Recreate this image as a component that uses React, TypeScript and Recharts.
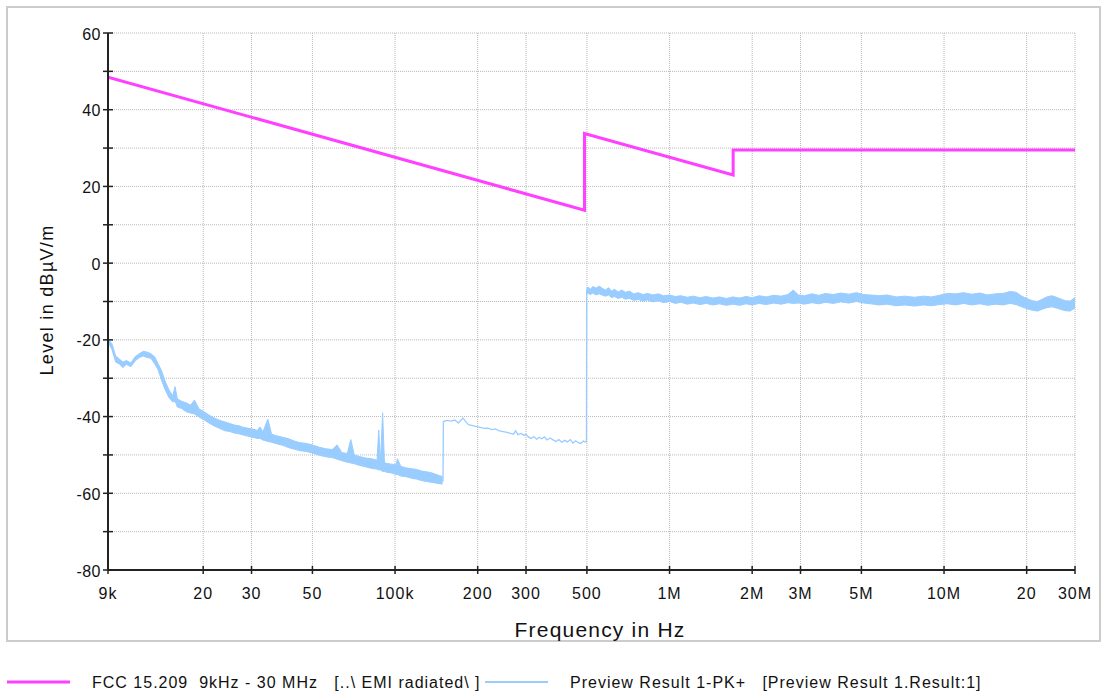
import React from 'react';
import { ComposedChart, Line, Area, XAxis, YAxis, CartesianGrid } from 'recharts';

// FCC 15.209 limit line (frequency in kHz, level in dBµV/m)
const limitFreqKHz = [9, 490, 490, 1705, 1705, 30000];
const limitLevel = [48.5, 13.8, 33.8, 23.0, 29.5, 29.5];

// Measured trace, segment 1 (9 kHz – 150 kHz): noisy band low / high
const seg1FreqKHz = [9.0, 9.3, 9.6, 9.9, 10.2, 10.5, 10.9, 11.3, 11.7, 12.1, 12.5, 12.9, 13.3, 13.7, 14.1, 14.5, 15.0, 15.5, 15.8, 16.1, 16.7, 17.3, 18.0, 18.6, 19.3, 20.0, 21.0, 22.0, 23.0, 24.0, 25.0, 26.0, 27.0, 28.0, 29.0, 30.0, 31.5, 32.2, 33.0, 34.4, 35.5, 37.0, 39.0, 41.0, 43.0, 45.0, 47.5, 50.0, 53.0, 56.0, 59.0, 61.5, 64.0, 67.0, 69.0, 71.0, 74.0, 78.0, 82.0, 86.0, 87.2, 88.5, 90.1, 91.5, 93.0, 97.0, 101.0, 102.0, 105, 110, 115, 120, 125, 130, 135, 140, 145, 149];
const seg1Low = [-20.6, -22.5, -25.8, -26.3, -27.2, -26.4, -27.0, -25.5, -24.6, -24.2, -24.6, -24.8, -26.2, -27.8, -30.5, -32.8, -35.0, -36.2, -36.0, -37.5, -37.9, -38.7, -39.1, -39.3, -40.1, -40.7, -41.7, -42.5, -43.1, -43.7, -43.9, -44.3, -44.5, -44.8, -45.1, -45.3, -45.7, -45.7, -46.1, -46.5, -46.7, -47.1, -47.5, -48.1, -48.5, -48.9, -49.1, -49.5, -50.1, -50.5, -50.7, -51.1, -51.5, -51.9, -52.1, -52.3, -52.7, -53.1, -53.5, -53.7, -53.9, -53.9, -54.3, -54.3, -54.5, -54.7, -55.1, -55.1, -55.5, -55.7, -56.1, -56.3, -56.7, -56.9, -57.1, -57.3, -57.5, -57.6];
const seg1High = [-19.7, -21.0, -24.2, -25.0, -25.8, -25.4, -26.0, -24.4, -23.6, -23.0, -23.2, -23.6, -24.4, -26.2, -28.0, -30.6, -33.0, -34.6, -32.2, -35.4, -36.0, -36.4, -37.0, -35.7, -38.0, -38.6, -39.6, -40.4, -41.0, -41.4, -41.8, -42.2, -42.4, -42.8, -43.0, -43.2, -43.6, -42.7, -44.0, -40.7, -44.6, -45.0, -45.4, -45.8, -46.4, -46.8, -47.0, -47.4, -48.0, -48.4, -48.6, -47.4, -49.4, -49.6, -46.0, -50.0, -50.4, -50.8, -51.0, -51.4, -43.5, -51.8, -39.0, -52.0, -52.2, -52.4, -52.6, -51.0, -53.0, -53.4, -53.6, -53.8, -54.2, -54.4, -54.6, -55.0, -55.4, -55.6];

// Measured trace, segment 2 (150 kHz – 500 kHz): thin line, incl. both jumps
const seg2FreqKHz = [149.5, 150, 155, 160, 165, 170, 174, 177, 181, 185, 190, 195, 200, 206, 212, 218, 225, 232, 240, 248, 256, 264, 270, 275, 280, 288, 295, 300, 306, 313, 320, 328, 335, 342, 350, 358, 367, 375, 385, 395, 405, 415, 425, 435, 445, 455, 465, 475, 485, 492, 498, 499];
const seg2Level = [-57.0, -41.3, -41.0, -41.2, -40.9, -41.7, -40.9, -40.4, -41.3, -42.1, -42.3, -42.5, -42.7, -42.9, -43.1, -43.0, -43.4, -43.2, -43.7, -43.9, -44.1, -44.4, -44.6, -43.7, -44.7, -44.4, -44.9, -44.6, -45.3, -45.7, -45.2, -45.9, -45.4, -45.8, -45.3, -46.1, -45.6, -46.0, -46.5, -46.0, -46.7, -46.2, -46.6, -46.0, -46.9, -46.3, -46.8, -47.0, -46.4, -46.6, -46.6, -7.0];

// Measured trace, segment 3 (500 kHz – 30 MHz): noisy band low / high
const seg3FreqKHz = [499, 505, 515, 525, 540, 555, 570, 585, 600, 615, 630, 650, 670, 690, 715, 740, 770, 800, 830, 870, 910, 950, 1000, 1050, 1100, 1160, 1220, 1290, 1360, 1440, 1520, 1610, 1700, 1800, 1900, 2000, 2120, 2250, 2400, 2550, 2700, 2820, 2950, 3100, 3300, 3500, 3700, 3950, 4200, 4500, 4800, 5100, 5400, 5800, 6200, 6700, 7200, 7800, 8400, 9000, 9600, 10300, 11000, 11800, 12600, 13500, 14400, 15400, 16400, 17400, 18300, 19200, 20100, 21000, 21900, 22800, 23700, 24700, 25700, 26700, 27700, 28800, 30000];
const seg3Low = [-7.8, -7.9, -8.2, -7.8, -8.3, -8.0, -8.4, -8.6, -8.3, -9.0, -8.7, -9.2, -8.9, -9.4, -9.2, -9.7, -9.5, -9.9, -9.6, -10.1, -9.8, -10.3, -10.0, -10.5, -10.2, -10.7, -10.4, -10.8, -10.5, -10.9, -10.6, -11.0, -10.7, -11.0, -10.6, -10.9, -10.5, -10.8, -10.4, -10.7, -10.3, -10.5, -10.4, -10.7, -10.3, -10.6, -10.2, -10.5, -10.1, -10.4, -10.0, -10.4, -10.6, -10.9, -10.7, -11.1, -10.9, -11.2, -10.9, -11.1, -10.8, -10.6, -10.9, -10.5, -10.9, -10.6, -11.0, -10.7, -10.9, -10.5, -10.8, -11.4, -11.9, -12.3, -12.5, -12.0, -11.6, -11.4, -11.7, -12.1, -12.4, -12.5, -11.7];
const seg3High = [-6.6, -6.2, -6.8, -6.1, -6.5, -6.0, -6.6, -7.0, -6.4, -7.3, -6.8, -7.5, -7.0, -7.6, -7.3, -8.0, -7.7, -8.2, -7.9, -8.3, -8.0, -8.5, -8.3, -8.7, -8.5, -8.9, -8.6, -9.0, -8.7, -9.1, -8.8, -9.2, -8.8, -9.1, -8.7, -9.0, -8.5, -8.8, -8.4, -8.6, -8.2, -7.0, -8.3, -8.5, -8.0, -8.4, -7.9, -8.2, -7.8, -8.1, -7.7, -8.2, -8.3, -8.5, -8.3, -8.8, -8.6, -8.9, -8.6, -8.8, -8.4, -7.9, -8.0, -7.7, -8.1, -7.8, -8.3, -8.0, -7.9, -7.4, -7.6, -8.6, -9.3, -9.8, -10.0, -9.4, -8.8, -8.5, -8.9, -9.4, -9.8, -9.9, -9.0];

// Axes
const xTicks = [9000, 20000, 30000, 50000, 100000, 200000, 300000, 500000, 1000000, 2000000, 3000000, 5000000, 10000000, 20000000, 30000000];
const xTickLabels = ['9k', '20', '30', '50', '100k', '200', '300', '500', '1M', '2M', '3M', '5M', '10M', '20', '30M'];
const yTicks = [-80, -70, -60, -50, -40, -30, -20, -10, 0, 10, 20, 30, 40, 50, 60];

const legendLimit = 'FCC 15.209  9kHz - 30 MHz   [..\\ EMI radiated\\ ]';
const legendMeas = 'Preview Result 1-PK+   [Preview Result 1.Result:1]';

const limitData = limitFreqKHz.map((f, i) => ({ f: f * 1000, v: limitLevel[i] }));
const seg1Data = seg1FreqKHz.map((f, i) => ({ f: f * 1000, r: [seg1Low[i], seg1High[i]] }));
const seg2Data = seg2FreqKHz.map((f, i) => ({ f: f * 1000, v: seg2Level[i] }));
const seg3Data = seg3FreqKHz.map((f, i) => ({ f: f * 1000, r: [seg3Low[i], seg3High[i]] }));

const FONT = '"Liberation Sans", Arial, sans-serif';
const PINK = '#ff40ff';
const BLUE = '#99ccff';

const YTick = (props: any) => {
  const { x, y, payload } = props;
  const v = payload.value;
  return (
    <g>
      <line x1={x - 5} x2={x + 5} y1={y} y2={y} stroke="#222" strokeWidth={1.5} />
      {v % 20 === 0 && (
        <text x={x - 7} y={y} dy={6.5} textAnchor="end" fontSize={16} fontFamily={FONT} fill="#111" letterSpacing={0.5}>
          {v}
        </text>
      )}
    </g>
  );
};

const XTick = (props: any) => {
  const { x, y, payload } = props;
  const idx = xTicks.indexOf(payload.value);
  return (
    <g>
      <line x1={x} x2={x} y1={y - 4} y2={y + 4} stroke="#222" strokeWidth={1.5} />
      <text x={x} y={y + 29} textAnchor="middle" fontSize={16} fontFamily={FONT} fill="#111" letterSpacing={1}>
        {idx >= 0 ? xTickLabels[idx] : ''}
      </text>
    </g>
  );
};

export default function App() {
  return (
    <div style={{ position: 'absolute', left: 0, top: 0, width: 1107, height: 695, background: '#fff', fontFamily: FONT }}>
      <div
        style={{
          position: 'absolute',
          left: 6,
          top: 6,
          width: 1095,
          height: 636,
          boxSizing: 'border-box',
          border: '2px solid #cccccc',
        }}
      />
      <svg width={1107} height={695} style={{ position: 'absolute', left: 0, top: 0 }}>
        <text
          x={0}
          y={0}
          transform="translate(53,300) rotate(-90)"
          textAnchor="middle"
          fontSize={18}
          fontFamily={FONT}
          fill="#111"
          letterSpacing={1.3}
        >
          Level in dBµV/m
        </text>
        <text x={600} y={637} textAnchor="middle" fontSize={21} fontFamily={FONT} fill="#111" letterSpacing={1.2}>
          Frequency in Hz
        </text>
        <line x1={7} x2={70} y1={682} y2={682} stroke={PINK} strokeWidth={3} />
        <text x={92} y={688} fontSize={16} fontFamily={FONT} fill="#111" letterSpacing={1} style={{ whiteSpace: 'pre' }}>
          {legendLimit}
        </text>
        <line x1={485} x2={548} y1={682} y2={682} stroke={BLUE} strokeWidth={2} />
        <text x={570} y={688} fontSize={16} fontFamily={FONT} fill="#111" letterSpacing={1} style={{ whiteSpace: 'pre' }}>
          {legendMeas}
        </text>
      </svg>
      <div style={{ position: 'absolute', left: 0, top: 0 }}>
        <ComposedChart width={1107} height={620} margin={{ top: 33, right: 32, left: 48, bottom: 20 }}>
          <CartesianGrid stroke="#b8b8b8" strokeDasharray="1 1" />
          <XAxis
            dataKey="f"
            type="number"
            scale="log"
            domain={[9000, 30000000]}
            allowDataOverflow
            ticks={xTicks}
            interval={0}
            tick={<XTick />}
            tickLine={false}
            tickSize={0}
            tickMargin={0}
            height={30}
            axisLine={{ stroke: '#222', strokeWidth: 2 }}
          />
          <YAxis
            type="number"
            domain={[-80, 60]}
            allowDataOverflow
            ticks={yTicks}
            interval={0}
            tick={<YTick />}
            tickLine={false}
            tickSize={0}
            tickMargin={0}
            width={60}
            axisLine={{ stroke: '#222', strokeWidth: 2 }}
          />
          <Area
            data={seg1Data}
            dataKey="r"
            type="linear"
            stroke={BLUE}
            strokeWidth={1}
            fill={BLUE}
            fillOpacity={1}
            isAnimationActive={false}
            dot={false}
            activeDot={false}
          />
          <Line
            data={seg2Data}
            dataKey="v"
            type="linear"
            stroke={BLUE}
            strokeWidth={1.3}
            dot={false}
            activeDot={false}
            isAnimationActive={false}
          />
          <Area
            data={seg3Data}
            dataKey="r"
            type="linear"
            stroke={BLUE}
            strokeWidth={1}
            fill={BLUE}
            fillOpacity={1}
            isAnimationActive={false}
            dot={false}
            activeDot={false}
          />
          <Line
            data={limitData}
            dataKey="v"
            type="linear"
            stroke={PINK}
            strokeWidth={3}
            dot={false}
            activeDot={false}
            isAnimationActive={false}
          />
        </ComposedChart>
      </div>
    </div>
  );
}
